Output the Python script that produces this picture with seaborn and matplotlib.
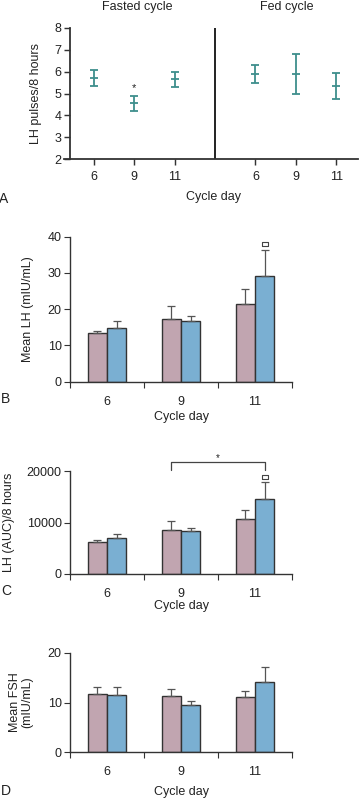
"""Four-panel LH / FSH figure (fasted vs fed cycle)."""

import matplotlib
matplotlib.use("Agg")

import matplotlib.pyplot as plt  # noqa: E402
import numpy as np  # noqa: E402
import pandas as pd  # noqa: E402
import seaborn as sns  # noqa: E402

sns.set_theme(style="ticks")
plt.rcParams["font.family"] = ["Liberation Sans", "DejaVu Sans"]
plt.rcParams["font.size"] = 9

W, H = 359, 800
PINK = "#c1a5b0"
BLUE = "#7aafd2"
TEAL = "#3e8f8c"
EDGE = "#333333"
TXT = "#222222"
FS = 9

# --- data ---
days = ["6", "9", "11"]
cycles = ["Fasted", "Fed"]

# A: LH pulses/8 hours, mean and error range
pulse_fasted = [5.70, 4.55, 5.65]
pulse_fasted_lo = [5.35, 4.20, 5.28]
pulse_fasted_hi = [6.07, 4.90, 6.00]
pulse_fed = [5.90, 5.90, 5.33]
pulse_fed_lo = [5.48, 5.00, 4.75]
pulse_fed_hi = [6.32, 6.80, 5.92]

# B: mean LH (mIU/mL)
lh_fasted = [13.4, 17.2, 21.5]
lh_fasted_err = [14.0, 21.0, 25.7]
lh_fed = [14.9, 16.8, 29.2]
lh_fed_err = [16.7, 18.2, 36.3]

# C: LH (AUC)/8 hours
auc_fasted = [6300, 8600, 10600]
auc_fasted_err = [6600, 10200, 12500]
auc_fed = [7000, 8300, 14600]
auc_fed_err = [7800, 8900, 17900]

# D: mean FSH (mIU/mL)
fsh_fasted = [11.8, 11.4, 11.1]
fsh_fasted_err = [13.1, 12.8, 12.4]
fsh_fed = [11.5, 9.4, 14.2]
fsh_fed_err = [13.2, 10.4, 17.1]

fig = plt.figure(figsize=(W / 100, H / 100), dpi=100)


def add_ax(left, right, top, bottom):
    return fig.add_axes([left / W, 1 - bottom / H, (right - left) / W, (bottom - top) / H])


def px(x, y, s, **kw):
    fig.text(x / W, 1 - y / H, s, ha="center", va="center", color=TXT, **kw)


def style(ax, lw=1.0):
    for side in ["top", "right"]:
        ax.spines[side].set_visible(False)
    for side in ["left", "bottom"]:
        ax.spines[side].set_linewidth(lw)
        ax.spines[side].set_color(EDGE)
    ax.tick_params(axis="both", which="major", length=4, width=lw * 0.8,
                   color=EDGE, labelcolor=TXT, labelsize=FS, pad=2)
    ax.set_facecolor("white")


# === A: pulses ===
axA = add_ax(70, 358, 28, 159)
xa_fasted = np.arange(3)
xa_fed = np.arange(3) + 4
for xs, m, lo, hi in [(xa_fasted, pulse_fasted, pulse_fasted_lo, pulse_fasted_hi),
                      (xa_fed, pulse_fed, pulse_fed_lo, pulse_fed_hi)]:
    m = np.array(m)
    axA.errorbar(xs, m, yerr=[m - np.array(lo), np.array(hi) - m], fmt="none",
                 ecolor=TEAL, elinewidth=1.3, capsize=2.6, capthick=1.3)
    sns.scatterplot(x=xs, y=m, marker="_", s=30, color=TEAL, linewidth=1.3, ax=axA)
axA.axvline(3, color="#111111", lw=1.3)
axA.text(1, 5.25, "*", ha="center", va="center", fontsize=8, color=TXT)
axA.set_ylim(2, 8)
axA.set_yticks(range(2, 9))
axA.set_xlim(-0.59, 6.54)
axA.set_xticks(list(xa_fasted) + list(xa_fed))
axA.set_xticklabels(days + days)
style(axA, lw=1.3)
axA.tick_params(axis="x", length=4, pad=5)
axA.spines["bottom"].set_bounds(-0.74, 6.54)
px(36, 93, "LH pulses/8 hours", fontsize=FS, rotation=90)
px(137, 7, "Fasted cycle", fontsize=FS)
px(287, 7, "Fed cycle", fontsize=FS)
px(214, 197, "Cycle day", fontsize=FS)
px(4, 199, "A", fontsize=10)


# === bar panels ===
def bar_panel(top, bottom, fasted, fasted_err, fed, fed_err, ymax, yticks, ylabel, lab_x):
    ax = add_ax(70, 292, top, bottom)
    df = pd.DataFrame({
        "day": days * 2,
        "cycle": [cycles[0]] * 3 + [cycles[1]] * 3,
        "value": fasted + fed,
    })
    sns.barplot(data=df, x="day", y="value", hue="cycle", palette=[PINK, BLUE],
                width=0.52, edgecolor=EDGE, linewidth=1.0, saturation=1,
                legend=False, ax=ax)
    for k, (vals, errs) in enumerate([(fasted, fasted_err), (fed, fed_err)]):
        xs = np.arange(3) + (k - 0.5) * 0.26
        v = np.array(vals)
        ax.errorbar(xs, v, yerr=[np.zeros(3), np.array(errs) - v], fmt="none",
                    ecolor="#555555", elinewidth=0.9, capsize=3, capthick=0.9, zorder=1)
    ax.set_xlim(-0.5, 2.5)
    ax.set_ylim(0, ymax)
    ax.set_yticks(yticks)
    ax.set_xticks([-0.5, 0.5, 1.5, 2.5])
    ax.set_xticklabels([])
    ax.set_xticks([0, 1, 2], minor=True)
    ax.set_xticklabels(days, minor=True)
    style(ax, lw=1.0)
    ax.tick_params(axis="x", which="minor", length=0, pad=10, labelsize=FS, labelcolor=TXT)
    ax.set_xlabel("")
    ax.set_ylabel("")
    px(lab_x, (top + bottom) / 2, ylabel, fontsize=FS, rotation=90, linespacing=1.0)
    return ax


def square(ax, x, y):
    ax.plot([x], [y], marker=[(-1.6, -1), (1.6, -1), (1.6, 1), (-1.6, 1), (-1.6, -1)],
            markersize=5, markerfacecolor="white", markeredgecolor="#444444",
            markeredgewidth=0.8, clip_on=False)


axB = bar_panel(236.7, 381.7, lh_fasted, lh_fasted_err, lh_fed, lh_fed_err,
                40, [0, 10, 20, 30, 40], "Mean LH (mIU/mL)", 28)
square(axB, 2.13, 38.0)
px(181, 417, "Cycle day", fontsize=FS)
px(6, 399, "B", fontsize=10)

axC = bar_panel(471, 574, auc_fasted, auc_fasted_err, auc_fed, auc_fed_err,
                20000, [0, 10000, 20000], "LH (AUC)/8 hours", 9)
square(axC, 2.13, 18900)
axC.plot([0.87, 0.87, 2.13, 2.13], [20200, 21800, 21800, 20200],
         color="#444444", lw=0.9, clip_on=False)
axC.text(1.5, 22600, "*", ha="center", va="center", fontsize=7, color=TXT)
px(181, 606, "Cycle day", fontsize=FS)
px(6, 591, "C", fontsize=10)

axD = bar_panel(652.7, 752.3, fsh_fasted, fsh_fasted_err, fsh_fed, fsh_fed_err,
                20, [0, 10, 20], "Mean FSH\n(mIU/mL)", 21)
px(181, 792, "Cycle day", fontsize=FS)
px(6, 791, "D", fontsize=10)

fig.savefig("out.png", dpi=100, facecolor="white")
plt.close(fig)
print("saved out.png")
